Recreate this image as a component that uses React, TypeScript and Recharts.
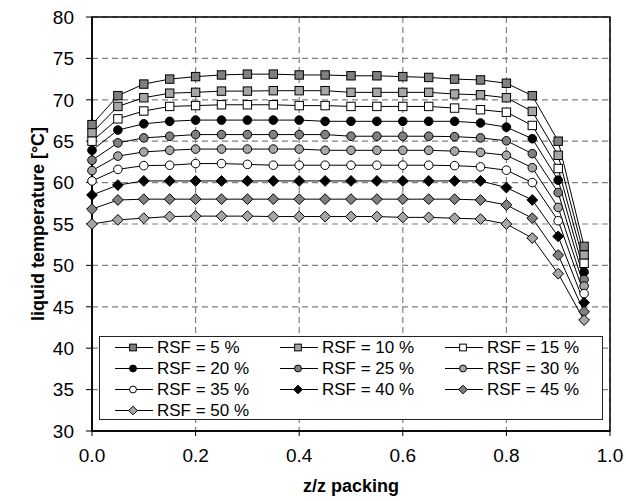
import React from 'react';
import { LineChart, Line, XAxis, YAxis, CartesianGrid, ReferenceArea, Legend } from 'recharts';

const FONT = '"Liberation Sans", Arial, Helvetica, sans-serif';

const X_VALUES = [0, 0.05, 0.1, 0.15, 0.2, 0.25, 0.3, 0.35, 0.4, 0.45, 0.5, 0.55, 0.6, 0.65, 0.7, 0.75, 0.8, 0.85, 0.9, 0.95];
const X_TICKS = [0, 0.2, 0.4, 0.6, 0.8, 1.0];
const Y_TICKS = [30, 35, 40, 45, 50, 55, 60, 65, 70, 75, 80];

const RSF5 = [67.0, 70.5, 71.9, 72.5, 72.8, 73.0, 73.1, 73.1, 73.0, 73.0, 72.9, 72.9, 72.8, 72.7, 72.5, 72.4, 72.0, 70.5, 65.0, 52.3];
const RSF10 = [66.0, 69.2, 70.25, 70.8, 70.9, 71.05, 71.05, 71.1, 71.1, 71.1, 70.9, 70.9, 70.9, 70.9, 70.7, 70.6, 70.25, 68.6, 63.3, 51.25];
const RSF15 = [65.0, 67.7, 68.65, 69.2, 69.3, 69.4, 69.4, 69.4, 69.3, 69.3, 69.2, 69.2, 69.2, 69.2, 69.0, 68.8, 68.5, 66.9, 61.7, 50.25];
const RSF20 = [63.9, 66.35, 67.1, 67.4, 67.55, 67.55, 67.55, 67.55, 67.55, 67.4, 67.4, 67.4, 67.4, 67.4, 67.4, 67.2, 66.7, 65.3, 60.3, 49.2];
const RSF25 = [62.7, 64.8, 65.4, 65.6, 65.8, 65.8, 65.8, 65.8, 65.8, 65.8, 65.6, 65.6, 65.6, 65.6, 65.55, 65.4, 65.05, 63.5, 58.8, 48.3];
const RSF30 = [61.45, 63.2, 63.7, 63.9, 64.05, 64.05, 64.05, 64.05, 64.05, 63.9, 63.9, 63.9, 63.9, 63.9, 63.8, 63.65, 63.3, 61.8, 57.0, 47.5];
const RSF35 = [60.2, 61.6, 62.05, 62.1, 62.3, 62.3, 62.2, 62.1, 62.1, 62.1, 62.1, 62.1, 62.1, 62.1, 62.05, 61.9, 61.5, 60.0, 55.4, 46.6];
const RSF40 = [58.5, 59.7, 60.2, 60.2, 60.2, 60.2, 60.2, 60.2, 60.2, 60.2, 60.2, 60.2, 60.2, 60.2, 60.2, 60.2, 59.4, 57.9, 53.5, 45.5];
const RSF45 = [56.8, 57.9, 58.0, 58.0, 58.0, 58.0, 58.0, 58.0, 58.0, 58.0, 58.0, 58.0, 58.0, 58.0, 58.0, 57.9, 57.3, 55.7, 51.25, 44.4];
const RSF50 = [55.0, 55.5, 55.7, 55.9, 55.95, 55.95, 55.95, 55.9, 55.9, 55.9, 55.9, 55.9, 55.8, 55.8, 55.7, 55.6, 55.0, 53.3, 49.0, 43.4];

const DARK = '#808080';
const LIGHT = '#a6a6a6';

type Shape = 'square' | 'circle' | 'diamond';
interface Series { key: string; label: string; values: number[]; shape: Shape; fill: string }

const SERIES: Series[] = [
  { key: 'rsf5', label: 'RSF = 5 %', values: RSF5, shape: 'square', fill: DARK },
  { key: 'rsf10', label: 'RSF = 10 %', values: RSF10, shape: 'square', fill: LIGHT },
  { key: 'rsf15', label: 'RSF = 15 %', values: RSF15, shape: 'square', fill: '#ffffff' },
  { key: 'rsf20', label: 'RSF = 20 %', values: RSF20, shape: 'circle', fill: '#000000' },
  { key: 'rsf25', label: 'RSF = 25 %', values: RSF25, shape: 'circle', fill: DARK },
  { key: 'rsf30', label: 'RSF = 30 %', values: RSF30, shape: 'circle', fill: LIGHT },
  { key: 'rsf35', label: 'RSF = 35 %', values: RSF35, shape: 'circle', fill: '#ffffff' },
  { key: 'rsf40', label: 'RSF = 40 %', values: RSF40, shape: 'diamond', fill: '#000000' },
  { key: 'rsf45', label: 'RSF = 45 %', values: RSF45, shape: 'diamond', fill: DARK },
  { key: 'rsf50', label: 'RSF = 50 %', values: RSF50, shape: 'diamond', fill: LIGHT },
];

const data = X_VALUES.map((x, i) => {
  const row: Record<string, number> = { x };
  SERIES.forEach((s) => { row[s.key] = s.values[i]; });
  return row;
});

function Marker({ cx, cy, shape, fill, scale = 1 }: { cx: number; cy: number; shape: Shape; fill: string; scale?: number }) {
  if (cx == null || cy == null || isNaN(cx) || isNaN(cy)) return null;
  if (shape === 'square') {
    const h = 4.2 * scale;
    return <rect x={cx - h} y={cy - h} width={2 * h} height={2 * h} fill={fill} stroke="#000" strokeWidth={1} />;
  }
  if (shape === 'circle') {
    return <circle cx={cx} cy={cy} r={4.3 * scale} fill={fill} stroke="#000" strokeWidth={1} />;
  }
  const d = 5.4 * scale;
  return <polygon points={`${cx},${cy - d} ${cx + d},${cy} ${cx},${cy + d} ${cx - d},${cy}`} fill={fill} stroke="#000" strokeWidth={1} />;
}

function LegendContent() {
  return (
    <div
      style={{
        boxSizing: 'border-box',
        width: 504,
        height: 84,
        border: '1.5px solid #222',
        background: '#fff',
        paddingLeft: 15,
        paddingTop: 0,
        display: 'grid',
        gridTemplateColumns: '165px 165px 165px',
        gridAutoRows: '21px',
        fontFamily: FONT,
        fontSize: 17,
        color: '#000',
      }}
    >
      {SERIES.map((s) => (
        <div key={s.key} style={{ display: 'flex', alignItems: 'center', whiteSpace: 'nowrap' }}>
          <svg width={38} height={21} style={{ display: 'block', flex: 'none' }}>
            <line x1={0} y1={10.5} x2={38} y2={10.5} stroke="#000" strokeWidth={1} />
            <Marker cx={18} cy={10.5} shape={s.shape} fill={s.fill} scale={0.8} />
          </svg>
          <span style={{ marginLeft: 4, lineHeight: '21px' }}>{s.label}</span>
        </div>
      ))}
    </div>
  );
}

function YLabel(props: any) {
  const vb = props.viewBox || {};
  const x = 30;
  const y = (vb.y ?? 9) + (vb.height ?? 414) / 2;
  return (
    <text x={x} y={y} transform={`rotate(-90, ${x}, ${y})`} textAnchor="middle" dominantBaseline="central"
      style={{ fontFamily: FONT, fontSize: 18, fontWeight: 'bold', fill: '#000' }}>
      liquid temperature [°C]
    </text>
  );
}

function XLabel(props: any) {
  const vb = props.viewBox || {};
  const x = (vb.x ?? 84) + (vb.width ?? 518) / 2;
  const y = (vb.y ?? 423) + 61;
  return (
    <text x={x} y={y} textAnchor="middle"
      style={{ fontFamily: FONT, fontSize: 18, fontWeight: 'bold', fill: '#000' }}>
      z/z packing
    </text>
  );
}

export default function App() {
  return (
    <div style={{ width: 626, height: 501, boxSizing: 'border-box', paddingLeft: 8, paddingTop: 8, background: '#fff', fontFamily: FONT }}>
      <style>{'html, body { margin: 0; padding: 0; overflow: hidden; }'}</style>
      <LineChart width={618} height={493} data={data} margin={{ top: 9, right: 16, bottom: 0, left: 0 }}>
        <CartesianGrid stroke="#808080" strokeWidth={1.2} strokeDasharray="6 4" />
        <XAxis
          dataKey="x"
          type="number"
          domain={[0, 1]}
          ticks={X_TICKS}
          interval={0}
          height={70}
          tickFormatter={(v: number) => v.toFixed(1)}
          tickSize={5}
          tickMargin={13}
          axisLine={{ stroke: '#000', strokeWidth: 1.5 }}
          tickLine={{ stroke: '#000', strokeWidth: 1 }}
          tick={{ fill: '#000', fontSize: 19, fontFamily: FONT }}
          label={<XLabel />}
        />
        <YAxis
          type="number"
          domain={[30, 80]}
          ticks={Y_TICKS}
          interval={0}
          width={84}
          tickSize={6}
          tickMargin={12}
          axisLine={{ stroke: '#000', strokeWidth: 1.5 }}
          tickLine={{ stroke: '#000', strokeWidth: 1 }}
          tick={{ fill: '#000', fontSize: 19, fontFamily: FONT }}
          label={<YLabel />}
        />
        <ReferenceArea x1={0} x2={1} y1={30} y2={80} fill="none" fillOpacity={0} stroke="#000" strokeWidth={1.5} ifOverflow="visible" />
        <Legend
          layout="horizontal"
          verticalAlign="middle"
          align="center"
          content={<LegendContent />}
          wrapperStyle={{ position: 'absolute', left: 91, top: 328, width: 504, height: 84 }}
        />
        {SERIES.map((s) => (
          <Line
            key={s.key}
            dataKey={s.key}
            name={s.label}
            type="linear"
            stroke="#000"
            strokeWidth={1}
            isAnimationActive={false}
            dot={(p: any) => <Marker key={`${s.key}-${p.index}`} cx={p.cx} cy={p.cy} shape={s.shape} fill={s.fill} />}
            activeDot={false}
          />
        ))}
      </LineChart>
    </div>
  );
}
